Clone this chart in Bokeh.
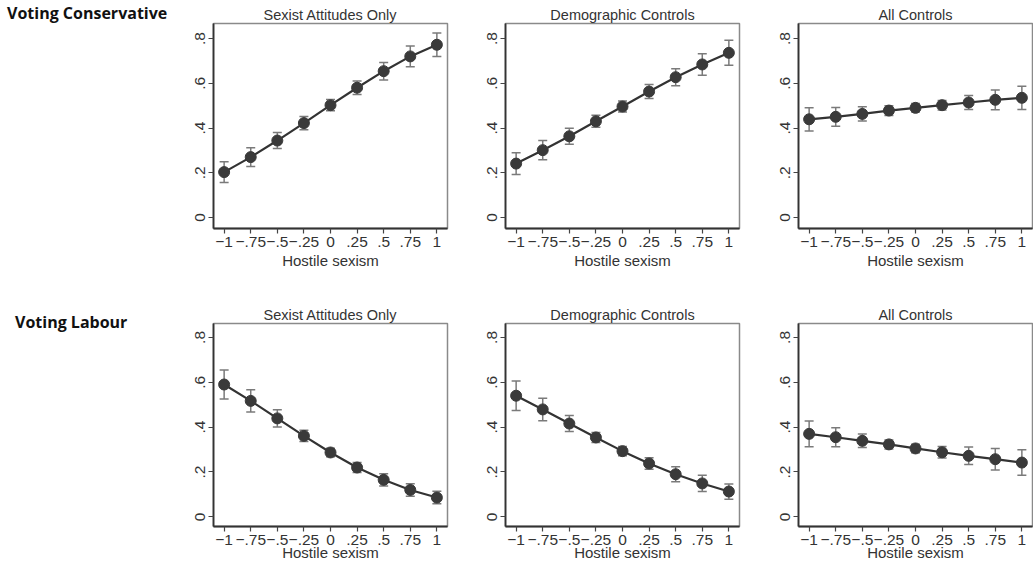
from bokeh.plotting import figure
from bokeh.models import ColumnDataSource, Whisker, TeeHead, FixedTicker, Div, Range1d
from bokeh.layouts import row, column
from bokeh.embed import file_html
from bokeh.resources import INLINE

# ---- data ----
x_vals = [-1, -0.75, -0.5, -0.25, 0, 0.25, 0.5, 0.75, 1]
x_tick_labels = ["\u22121", "\u2212.75", "\u2212.5", "\u2212.25", "0", ".25", ".5", ".75", "1"]
y_ticks = [0, 0.2, 0.4, 0.6, 0.8]
y_tick_labels = ["0", ".2", ".4", ".6", ".8"]

panel_titles = ["Sexist Attitudes Only", "Demographic Controls", "All Controls"]
row_labels = ["Voting Conservative", "Voting Labour"]
x_label = "Hostile sexism"

con_sexist = [0.203, 0.270, 0.344, 0.422, 0.502, 0.580, 0.654, 0.720, 0.772]
con_sexist_err = [0.046, 0.042, 0.036, 0.030, 0.025, 0.030, 0.039, 0.046, 0.053]
con_demo = [0.241, 0.301, 0.363, 0.430, 0.496, 0.563, 0.627, 0.684, 0.736]
con_demo_err = [0.049, 0.043, 0.036, 0.027, 0.025, 0.031, 0.038, 0.048, 0.056]
con_all = [0.439, 0.450, 0.463, 0.478, 0.490, 0.502, 0.514, 0.526, 0.535]
con_all_err = [0.052, 0.042, 0.032, 0.022, 0.019, 0.021, 0.031, 0.044, 0.052]

lab_sexist = [0.590, 0.517, 0.439, 0.361, 0.287, 0.220, 0.165, 0.120, 0.086]
lab_sexist_err = [0.065, 0.050, 0.038, 0.025, 0.019, 0.022, 0.027, 0.028, 0.028]
lab_demo = [0.540, 0.479, 0.416, 0.354, 0.293, 0.238, 0.190, 0.149, 0.113]
lab_demo_err = [0.066, 0.050, 0.036, 0.022, 0.021, 0.026, 0.033, 0.036, 0.034]
lab_all = [0.370, 0.355, 0.339, 0.323, 0.305, 0.288, 0.272, 0.257, 0.242]
lab_all_err = [0.057, 0.042, 0.030, 0.020, 0.019, 0.026, 0.039, 0.048, 0.057]

rows_data = [
    [(con_sexist, con_sexist_err), (con_demo, con_demo_err), (con_all, con_all_err)],
    [(lab_sexist, lab_sexist_err), (lab_demo, lab_demo_err), (lab_all, lab_all_err)],
]

FONT = "Liberation Sans"
TXT = "#333333"
DOT = "#3a3a3a"
BAR = "#7a7a7a"

right_borders = [25, 26, 1]
row_specs = [
    dict(frame_h=205, top=23, bottom=56, yr=(-0.049, 0.867), label_pad=3, xl_standoff=2),
    dict(frame_h=203, top=39, bottom=43, yr=(-0.043, 0.862), label_pad=28, xl_standoff=-4),
]


def make_panel(title, yv, ev, spec, right):
    p = figure(frame_width=234, frame_height=spec["frame_h"],
               x_range=Range1d(-1.1, 1.1), y_range=Range1d(*spec["yr"]),
               min_border_left=33, min_border_right=right,
               min_border_top=spec["top"], min_border_bottom=spec["bottom"],
               toolbar_location=None, output_backend="svg", title=title)
    p.title.align = "center"
    p.title.text_font = FONT
    p.title.text_font_size = "14.5px"
    p.title.text_font_style = "normal"
    p.title.text_color = TXT
    p.title.standoff = 1
    p.title.offset = 0
    p.grid.visible = False
    p.background_fill_color = "white"
    p.border_fill_color = "white"
    p.outline_line_color = "#8a8a8a"
    p.outline_line_width = 1.5

    lower = [a - b for a, b in zip(yv, ev)]
    upper = [a + b for a, b in zip(yv, ev)]
    src = ColumnDataSource(dict(x=x_vals, y=yv, lower=lower, upper=upper))
    w = Whisker(source=src, base="x", upper="upper", lower="lower",
                line_color=BAR, line_width=1.5,
                upper_head=TeeHead(size=9, line_color=BAR, line_width=1.5),
                lower_head=TeeHead(size=9, line_color=BAR, line_width=1.5))
    p.add_layout(w)
    p.line("x", "y", source=src, line_width=2.2, line_color="#333333")
    p.scatter("x", "y", source=src, size=11, fill_color=DOT, line_color=DOT)

    for ax in (p.xaxis[0], p.yaxis[0]):
        ax.axis_line_color = "#333333"
        ax.axis_line_width = 1.8
        ax.major_tick_line_color = "#444444"
        ax.major_tick_line_width = 1.2
        ax.major_tick_out = 5
        ax.major_tick_in = 0
        ax.minor_tick_line_color = None
        ax.major_label_text_font = FONT
        ax.major_label_text_font_size = "15.5px"
        ax.major_label_text_color = TXT
        ax.major_label_standoff = 3

    p.xaxis.ticker = FixedTicker(ticks=x_vals)
    p.xaxis.major_label_overrides = {float(v): s for v, s in zip(x_vals, x_tick_labels)}
    p.xaxis.axis_label = x_label
    p.xaxis.axis_label_text_font = FONT
    p.xaxis.axis_label_text_font_size = "15px"
    p.xaxis.axis_label_text_font_style = "normal"
    p.xaxis.axis_label_text_color = TXT
    p.xaxis.axis_label_standoff = spec["xl_standoff"]

    p.yaxis.ticker = FixedTicker(ticks=y_ticks)
    p.yaxis.major_label_overrides = {float(v): s for v, s in zip(y_ticks, y_tick_labels)}
    p.yaxis.major_label_orientation = "vertical"
    return p


rows = []
for r in range(2):
    spec = row_specs[r]
    h = spec["top"] + spec["frame_h"] + spec["bottom"]
    div = Div(text=f'<div style="font-family: \'Open Sans\', sans-serif; font-weight: bold; font-size: 16px; '
                   f'line-height: 20px; color: #111; white-space: nowrap; '
                   f'padding-left: {7 if r == 0 else 15}px; padding-top: {spec["label_pad"]}px;">'
                   f'{row_labels[r]}</div>',
              width=180, height=h, margin=0)
    panels = [make_panel(panel_titles[c], rows_data[r][c][0], rows_data[r][c][1], spec, right_borders[c])
              for c in range(3)]
    rows.append(row(div, *panels, spacing=0))

layout = column(*rows, spacing=0)
open("out.html", "w").write(file_html(layout, INLINE))
